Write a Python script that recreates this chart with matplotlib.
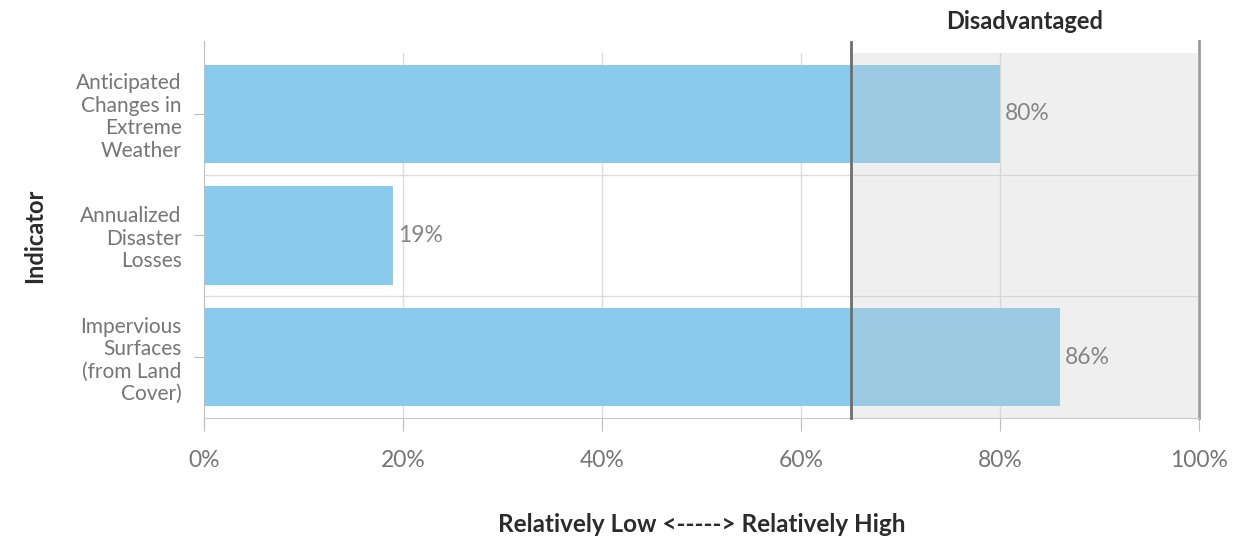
import matplotlib.pyplot as plt

# data
indicators = ["Anticipated\nChanges in\nExtreme\nWeather",
              "Annualized\nDisaster\nLosses",
              "Impervious\nSurfaces\n(from Land\nCover)"]
percentiles = [80, 19, 86]
threshold = 65
xticks = [0, 20, 40, 60, 80, 100]

plt.rcParams['font.family'] = ['Lato', 'DejaVu Sans']

fig = plt.figure(figsize=(12.39, 5.39), dpi=100)
ax = fig.add_axes([0.1646, 0.2245, 0.8031, 0.6772])

ypos = list(range(len(indicators)))
ax.barh(ypos, percentiles, height=0.81, color='#89caed', zorder=2)

# disadvantaged zone, drawn over the bars
ax.axvspan(threshold, 100, color='#cdcdcd', alpha=0.3, lw=0, zorder=3)
ax.axvline(threshold, ymin=0, ymax=1.03, color='#6e6e6e', lw=2, zorder=4, clip_on=False)

for y, v in zip(ypos, percentiles):
    ax.text(v + 0.5, y, f"{v}%", va='center', ha='left', fontsize=16.5, color='#858585', zorder=5)

ax.set_xlim(0, 100)
ax.set_ylim(2.5, -0.5)
ax.set_xticks(xticks)
ax.set_xticklabels([f"{t}%" for t in xticks], fontsize=16.5, color='#757575')
ax.set_yticks(ypos)
ax.set_yticklabels(indicators, fontsize=15, color='#757575', linespacing=1.15)
ax.tick_params(axis='x', length=9, color='#bdbdbd', pad=14)
ax.tick_params(axis='y', length=7, color='#bdbdbd', pad=9)

# grid
for t in xticks[1:-1]:
    ax.axvline(t, color='#dcdcdc', lw=1, zorder=1)
for b in [0.5, 1.5]:
    ax.axhline(b, color='#dcdcdc', lw=1, zorder=1)

ax.spines['top'].set_visible(False)
ax.spines['left'].set_color('#bdbdbd')
ax.spines['bottom'].set_color('#c8c8c8')
ax.spines['right'].set_color('#9a9a9a')
ax.spines['right'].set_linewidth(2)
ax.spines['left'].set_bounds(2.5, -0.6)
ax.spines['right'].set_bounds(2.5, -0.6)

ax.set_ylabel("Indicator", fontsize=17, fontweight='bold', color='#2b2b2b', labelpad=22)
ax.set_xlabel("Relatively Low <-----> Relatively High", fontsize=17.5, fontweight='bold',
              color='#2b2b2b', labelpad=30)
ax.text((threshold + 100) / 2, 1.085, "Disadvantaged", transform=ax.get_xaxis_transform(),
        ha='center', va='center', fontsize=17, fontweight='bold', color='#2b2b2b')

fig.savefig("out.png", dpi=100)
